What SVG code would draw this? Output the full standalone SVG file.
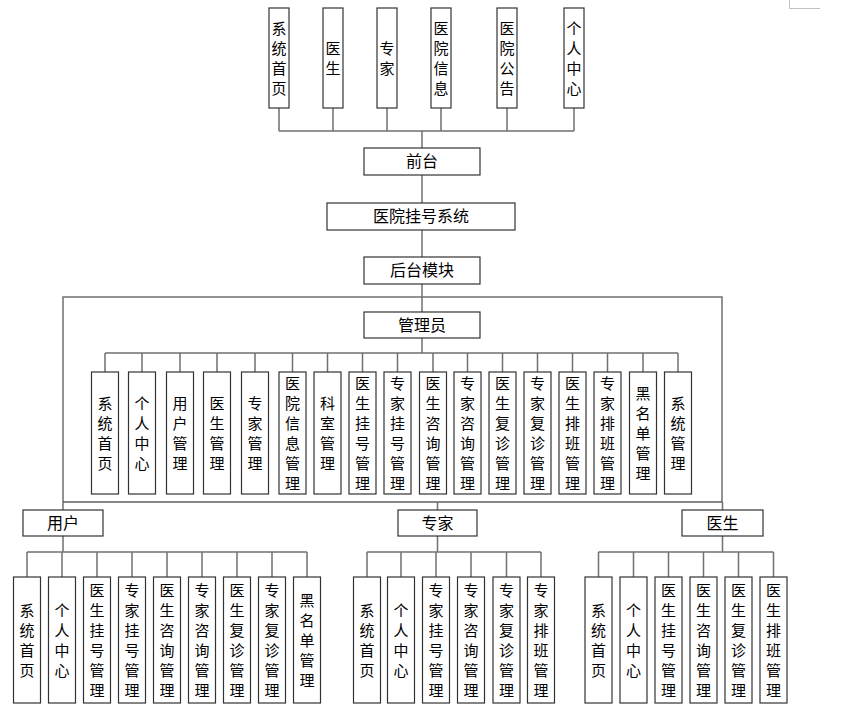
<svg xmlns="http://www.w3.org/2000/svg" width="857" height="718" viewBox="0 0 857 718">
<style>
.b{fill:#fff;stroke:#333;stroke-width:1.2}
.t{font-family:"Noto Sans CJK SC","Noto Sans",sans-serif;font-size:15px;fill:#000;text-anchor:middle}
.h{font-family:"Noto Sans CJK SC","Noto Sans",sans-serif;font-size:16px;fill:#000;text-anchor:middle}
.c{fill:none;stroke:#707070;stroke-width:1.5}
.k{fill:none;stroke:#111;stroke-width:1.2}
</style>
<rect width="857" height="718" fill="#fff"/>
<path d="M789.5,0V8.5H820" fill="none" stroke="#c0c0c0" stroke-width="1"/>
<g id="connectors">
<path class="c" d="M279,108V131M333,108V131M387,108V131M441,108V131M507,108V131M574,108V131M279,131H574M422,131V148M422,175V203M422,230V257M422,284V312M422,338V353"/>
<path class="c" d="M63,502V297H722V502"/>
<path class="k" d="M63,502H722"/>
<path class="c" d="M105,353H678M105,353V372M142,353V372M180,353V372M217,353V372M255,353V372M292.5,353V372M327.5,353V372M362.5,353V372M397.5,353V372M433,353V372M467.5,353V372M502.5,353V372M537.5,353V372M572.5,353V372M607.5,353V372M643,353V372M678,353V372"/>
<path class="c" d="M63,502V510M437.5,502V510M722.5,502V510"/>
<path class="c" d="M63,536V552M27,552H307M27,552V577M62,552V577M97,552V577M132,552V577M167,552V577M202,552V577M237,552V577M272,552V577M307,552V577"/>
<path class="c" d="M437.5,536V552M367,552H541M367,552V577M401,552V577M436,552V577M471,552V577M506.5,552V577M541,552V577"/>
<path class="c" d="M722.5,536V552M598.5,552H773.5M598.5,552V577M633.5,552V577M668.5,552V577M703.5,552V577M738.5,552V577M773.5,552V577"/>
</g>
<!-- top row -->
<g id="f1"><rect class="b" x="269" y="8" width="20" height="100"/><text class="t"><tspan x="279" y="33.5">系</tspan><tspan x="279" y="53.5">统</tspan><tspan x="279" y="73.5">首</tspan><tspan x="279" y="93.5">页</tspan></text></g>
<g id="f2"><rect class="b" x="323" y="8" width="20" height="100"/><text class="t"><tspan x="333" y="53.5">医</tspan><tspan x="333" y="73.5">生</tspan></text></g>
<g id="f3"><rect class="b" x="377" y="8" width="20" height="100"/><text class="t"><tspan x="387" y="53.5">专</tspan><tspan x="387" y="73.5">家</tspan></text></g>
<g id="f4"><rect class="b" x="431" y="8" width="20" height="100"/><text class="t"><tspan x="441" y="33.5">医</tspan><tspan x="441" y="53.5">院</tspan><tspan x="441" y="73.5">信</tspan><tspan x="441" y="93.5">息</tspan></text></g>
<g id="f5"><rect class="b" x="497" y="8" width="20" height="100"/><text class="t"><tspan x="507" y="33.5">医</tspan><tspan x="507" y="53.5">院</tspan><tspan x="507" y="73.5">公</tspan><tspan x="507" y="93.5">告</tspan></text></g>
<g id="f6"><rect class="b" x="564" y="8" width="20" height="100"/><text class="t"><tspan x="574" y="33.5">个</tspan><tspan x="574" y="53.5">人</tspan><tspan x="574" y="73.5">中</tspan><tspan x="574" y="93.5">心</tspan></text></g>
<!-- spine -->
<g id="qiantai"><rect class="b" x="364" y="148" width="116" height="27"/><text class="h" x="422" y="167">前台</text></g>
<g id="system"><rect class="b" x="327" y="203" width="188" height="27"/><text class="h" x="421" y="222">医院挂号系统</text></g>
<g id="houtai"><rect class="b" x="364" y="257" width="116" height="27"/><text class="h" x="422" y="276">后台模块</text></g>
<g id="admin"><rect class="b" x="364" y="312" width="116" height="26"/><text class="h" x="422" y="330.5">管理员</text></g>
<!-- admin children -->
<g id="a1"><rect class="b" x="91.5" y="372" width="27" height="122"/><text class="t"><tspan x="105" y="408.5">系</tspan><tspan x="105" y="428.5">统</tspan><tspan x="105" y="448.5">首</tspan><tspan x="105" y="468.5">页</tspan></text></g>
<g id="a2"><rect class="b" x="128.5" y="372" width="27" height="122"/><text class="t"><tspan x="142" y="408.5">个</tspan><tspan x="142" y="428.5">人</tspan><tspan x="142" y="448.5">中</tspan><tspan x="142" y="468.5">心</tspan></text></g>
<g id="a3"><rect class="b" x="166.5" y="372" width="27" height="122"/><text class="t"><tspan x="180" y="408.5">用</tspan><tspan x="180" y="428.5">户</tspan><tspan x="180" y="448.5">管</tspan><tspan x="180" y="468.5">理</tspan></text></g>
<g id="a4"><rect class="b" x="203.5" y="372" width="27" height="122"/><text class="t"><tspan x="217" y="408.5">医</tspan><tspan x="217" y="428.5">生</tspan><tspan x="217" y="448.5">管</tspan><tspan x="217" y="468.5">理</tspan></text></g>
<g id="a5"><rect class="b" x="241.5" y="372" width="27" height="122"/><text class="t"><tspan x="255" y="408.5">专</tspan><tspan x="255" y="428.5">家</tspan><tspan x="255" y="448.5">管</tspan><tspan x="255" y="468.5">理</tspan></text></g>
<g id="a6"><rect class="b" x="279" y="372" width="27" height="122"/><text class="t"><tspan x="292.5" y="388.5">医</tspan><tspan x="292.5" y="408.5">院</tspan><tspan x="292.5" y="428.5">信</tspan><tspan x="292.5" y="448.5">息</tspan><tspan x="292.5" y="468.5">管</tspan><tspan x="292.5" y="488.5">理</tspan></text></g>
<g id="a7"><rect class="b" x="314" y="372" width="27" height="122"/><text class="t"><tspan x="327.5" y="408.5">科</tspan><tspan x="327.5" y="428.5">室</tspan><tspan x="327.5" y="448.5">管</tspan><tspan x="327.5" y="468.5">理</tspan></text></g>
<g id="a8"><rect class="b" x="349" y="372" width="27" height="122"/><text class="t"><tspan x="362.5" y="388.5">医</tspan><tspan x="362.5" y="408.5">生</tspan><tspan x="362.5" y="428.5">挂</tspan><tspan x="362.5" y="448.5">号</tspan><tspan x="362.5" y="468.5">管</tspan><tspan x="362.5" y="488.5">理</tspan></text></g>
<g id="a9"><rect class="b" x="384" y="372" width="27" height="122"/><text class="t"><tspan x="397.5" y="388.5">专</tspan><tspan x="397.5" y="408.5">家</tspan><tspan x="397.5" y="428.5">挂</tspan><tspan x="397.5" y="448.5">号</tspan><tspan x="397.5" y="468.5">管</tspan><tspan x="397.5" y="488.5">理</tspan></text></g>
<g id="a10"><rect class="b" x="419.5" y="372" width="27" height="122"/><text class="t"><tspan x="433" y="388.5">医</tspan><tspan x="433" y="408.5">生</tspan><tspan x="433" y="428.5">咨</tspan><tspan x="433" y="448.5">询</tspan><tspan x="433" y="468.5">管</tspan><tspan x="433" y="488.5">理</tspan></text></g>
<g id="a11"><rect class="b" x="454" y="372" width="27" height="122"/><text class="t"><tspan x="467.5" y="388.5">专</tspan><tspan x="467.5" y="408.5">家</tspan><tspan x="467.5" y="428.5">咨</tspan><tspan x="467.5" y="448.5">询</tspan><tspan x="467.5" y="468.5">管</tspan><tspan x="467.5" y="488.5">理</tspan></text></g>
<g id="a12"><rect class="b" x="489" y="372" width="27" height="122"/><text class="t"><tspan x="502.5" y="388.5">医</tspan><tspan x="502.5" y="408.5">生</tspan><tspan x="502.5" y="428.5">复</tspan><tspan x="502.5" y="448.5">诊</tspan><tspan x="502.5" y="468.5">管</tspan><tspan x="502.5" y="488.5">理</tspan></text></g>
<g id="a13"><rect class="b" x="524" y="372" width="27" height="122"/><text class="t"><tspan x="537.5" y="388.5">专</tspan><tspan x="537.5" y="408.5">家</tspan><tspan x="537.5" y="428.5">复</tspan><tspan x="537.5" y="448.5">诊</tspan><tspan x="537.5" y="468.5">管</tspan><tspan x="537.5" y="488.5">理</tspan></text></g>
<g id="a14"><rect class="b" x="559" y="372" width="27" height="122"/><text class="t"><tspan x="572.5" y="388.5">医</tspan><tspan x="572.5" y="408.5">生</tspan><tspan x="572.5" y="428.5">排</tspan><tspan x="572.5" y="448.5">班</tspan><tspan x="572.5" y="468.5">管</tspan><tspan x="572.5" y="488.5">理</tspan></text></g>
<g id="a15"><rect class="b" x="594" y="372" width="27" height="122"/><text class="t"><tspan x="607.5" y="388.5">专</tspan><tspan x="607.5" y="408.5">家</tspan><tspan x="607.5" y="428.5">排</tspan><tspan x="607.5" y="448.5">班</tspan><tspan x="607.5" y="468.5">管</tspan><tspan x="607.5" y="488.5">理</tspan></text></g>
<g id="a16"><rect class="b" x="629.5" y="372" width="27" height="122"/><text class="t"><tspan x="643" y="398.5">黑</tspan><tspan x="643" y="418.5">名</tspan><tspan x="643" y="438.5">单</tspan><tspan x="643" y="458.5">管</tspan><tspan x="643" y="478.5">理</tspan></text></g>
<g id="a17"><rect class="b" x="664.5" y="372" width="27" height="122"/><text class="t"><tspan x="678" y="408.5">系</tspan><tspan x="678" y="428.5">统</tspan><tspan x="678" y="448.5">管</tspan><tspan x="678" y="468.5">理</tspan></text></g>
<!-- roles -->
<g id="user"><rect class="b" x="23" y="510" width="80" height="26"/><text class="h" x="63" y="528.5">用户</text></g>
<g id="expert"><rect class="b" x="398" y="510" width="79" height="26"/><text class="h" x="437.5" y="528.5">专家</text></g>
<g id="doctor"><rect class="b" x="682" y="510" width="81" height="26"/><text class="h" x="722.5" y="528.5">医生</text></g>
<!-- user children -->
<g id="u1"><rect class="b" x="13.5" y="577" width="27" height="126"/><text class="t"><tspan x="27" y="615.5">系</tspan><tspan x="27" y="635.5">统</tspan><tspan x="27" y="655.5">首</tspan><tspan x="27" y="675.5">页</tspan></text></g>
<g id="u2"><rect class="b" x="48.5" y="577" width="27" height="126"/><text class="t"><tspan x="62" y="615.5">个</tspan><tspan x="62" y="635.5">人</tspan><tspan x="62" y="655.5">中</tspan><tspan x="62" y="675.5">心</tspan></text></g>
<g id="u3"><rect class="b" x="83.5" y="577" width="27" height="126"/><text class="t"><tspan x="97" y="595.5">医</tspan><tspan x="97" y="615.5">生</tspan><tspan x="97" y="635.5">挂</tspan><tspan x="97" y="655.5">号</tspan><tspan x="97" y="675.5">管</tspan><tspan x="97" y="695.5">理</tspan></text></g>
<g id="u4"><rect class="b" x="118.5" y="577" width="27" height="126"/><text class="t"><tspan x="132" y="595.5">专</tspan><tspan x="132" y="615.5">家</tspan><tspan x="132" y="635.5">挂</tspan><tspan x="132" y="655.5">号</tspan><tspan x="132" y="675.5">管</tspan><tspan x="132" y="695.5">理</tspan></text></g>
<g id="u5"><rect class="b" x="153.5" y="577" width="27" height="126"/><text class="t"><tspan x="167" y="595.5">医</tspan><tspan x="167" y="615.5">生</tspan><tspan x="167" y="635.5">咨</tspan><tspan x="167" y="655.5">询</tspan><tspan x="167" y="675.5">管</tspan><tspan x="167" y="695.5">理</tspan></text></g>
<g id="u6"><rect class="b" x="188.5" y="577" width="27" height="126"/><text class="t"><tspan x="202" y="595.5">专</tspan><tspan x="202" y="615.5">家</tspan><tspan x="202" y="635.5">咨</tspan><tspan x="202" y="655.5">询</tspan><tspan x="202" y="675.5">管</tspan><tspan x="202" y="695.5">理</tspan></text></g>
<g id="u7"><rect class="b" x="223.5" y="577" width="27" height="126"/><text class="t"><tspan x="237" y="595.5">医</tspan><tspan x="237" y="615.5">生</tspan><tspan x="237" y="635.5">复</tspan><tspan x="237" y="655.5">诊</tspan><tspan x="237" y="675.5">管</tspan><tspan x="237" y="695.5">理</tspan></text></g>
<g id="u8"><rect class="b" x="258.5" y="577" width="27" height="126"/><text class="t"><tspan x="272" y="595.5">专</tspan><tspan x="272" y="615.5">家</tspan><tspan x="272" y="635.5">复</tspan><tspan x="272" y="655.5">诊</tspan><tspan x="272" y="675.5">管</tspan><tspan x="272" y="695.5">理</tspan></text></g>
<g id="u9"><rect class="b" x="293.5" y="577" width="27" height="126"/><text class="t"><tspan x="307" y="605.5">黑</tspan><tspan x="307" y="625.5">名</tspan><tspan x="307" y="645.5">单</tspan><tspan x="307" y="665.5">管</tspan><tspan x="307" y="685.5">理</tspan></text></g>
<!-- expert children -->
<g id="e1"><rect class="b" x="353.5" y="577" width="27" height="126"/><text class="t"><tspan x="367" y="615.5">系</tspan><tspan x="367" y="635.5">统</tspan><tspan x="367" y="655.5">首</tspan><tspan x="367" y="675.5">页</tspan></text></g>
<g id="e2"><rect class="b" x="387.5" y="577" width="27" height="126"/><text class="t"><tspan x="401" y="615.5">个</tspan><tspan x="401" y="635.5">人</tspan><tspan x="401" y="655.5">中</tspan><tspan x="401" y="675.5">心</tspan></text></g>
<g id="e3"><rect class="b" x="422.5" y="577" width="27" height="126"/><text class="t"><tspan x="436" y="595.5">专</tspan><tspan x="436" y="615.5">家</tspan><tspan x="436" y="635.5">挂</tspan><tspan x="436" y="655.5">号</tspan><tspan x="436" y="675.5">管</tspan><tspan x="436" y="695.5">理</tspan></text></g>
<g id="e4"><rect class="b" x="457.5" y="577" width="27" height="126"/><text class="t"><tspan x="471" y="595.5">专</tspan><tspan x="471" y="615.5">家</tspan><tspan x="471" y="635.5">咨</tspan><tspan x="471" y="655.5">询</tspan><tspan x="471" y="675.5">管</tspan><tspan x="471" y="695.5">理</tspan></text></g>
<g id="e5"><rect class="b" x="493" y="577" width="27" height="126"/><text class="t"><tspan x="506.5" y="595.5">专</tspan><tspan x="506.5" y="615.5">家</tspan><tspan x="506.5" y="635.5">复</tspan><tspan x="506.5" y="655.5">诊</tspan><tspan x="506.5" y="675.5">管</tspan><tspan x="506.5" y="695.5">理</tspan></text></g>
<g id="e6"><rect class="b" x="527.5" y="577" width="27" height="126"/><text class="t"><tspan x="541" y="595.5">专</tspan><tspan x="541" y="615.5">家</tspan><tspan x="541" y="635.5">排</tspan><tspan x="541" y="655.5">班</tspan><tspan x="541" y="675.5">管</tspan><tspan x="541" y="695.5">理</tspan></text></g>
<!-- doctor children -->
<g id="d1"><rect class="b" x="585" y="577" width="27" height="126"/><text class="t"><tspan x="598.5" y="615.5">系</tspan><tspan x="598.5" y="635.5">统</tspan><tspan x="598.5" y="655.5">首</tspan><tspan x="598.5" y="675.5">页</tspan></text></g>
<g id="d2"><rect class="b" x="620" y="577" width="27" height="126"/><text class="t"><tspan x="633.5" y="615.5">个</tspan><tspan x="633.5" y="635.5">人</tspan><tspan x="633.5" y="655.5">中</tspan><tspan x="633.5" y="675.5">心</tspan></text></g>
<g id="d3"><rect class="b" x="655" y="577" width="27" height="126"/><text class="t"><tspan x="668.5" y="595.5">医</tspan><tspan x="668.5" y="615.5">生</tspan><tspan x="668.5" y="635.5">挂</tspan><tspan x="668.5" y="655.5">号</tspan><tspan x="668.5" y="675.5">管</tspan><tspan x="668.5" y="695.5">理</tspan></text></g>
<g id="d4"><rect class="b" x="690" y="577" width="27" height="126"/><text class="t"><tspan x="703.5" y="595.5">医</tspan><tspan x="703.5" y="615.5">生</tspan><tspan x="703.5" y="635.5">咨</tspan><tspan x="703.5" y="655.5">询</tspan><tspan x="703.5" y="675.5">管</tspan><tspan x="703.5" y="695.5">理</tspan></text></g>
<g id="d5"><rect class="b" x="725" y="577" width="27" height="126"/><text class="t"><tspan x="738.5" y="595.5">医</tspan><tspan x="738.5" y="615.5">生</tspan><tspan x="738.5" y="635.5">复</tspan><tspan x="738.5" y="655.5">诊</tspan><tspan x="738.5" y="675.5">管</tspan><tspan x="738.5" y="695.5">理</tspan></text></g>
<g id="d6"><rect class="b" x="760" y="577" width="27" height="126"/><text class="t"><tspan x="773.5" y="595.5">医</tspan><tspan x="773.5" y="615.5">生</tspan><tspan x="773.5" y="635.5">排</tspan><tspan x="773.5" y="655.5">班</tspan><tspan x="773.5" y="675.5">管</tspan><tspan x="773.5" y="695.5">理</tspan></text></g>
</svg>
